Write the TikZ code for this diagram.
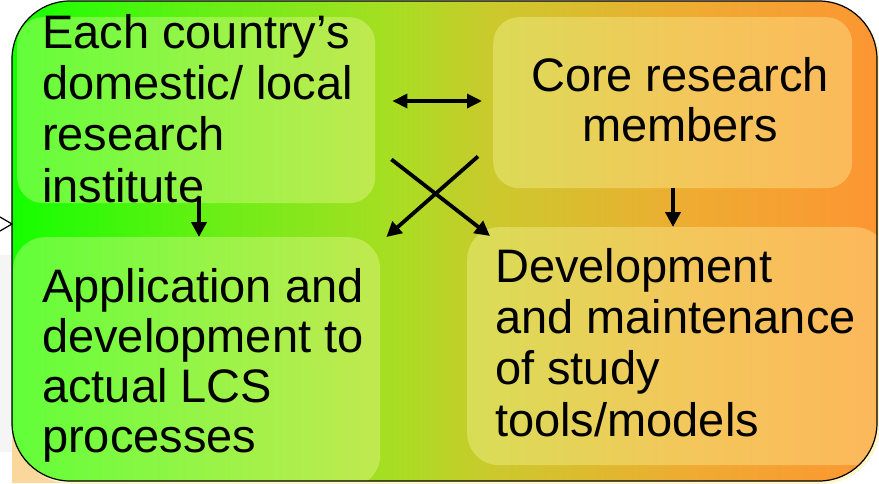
\documentclass[tikz,border=0pt]{standalone}
\usepackage{fontspec}
\setmainfont{Liberation Sans}
\usetikzlibrary{arrows.meta,calc}
\definecolor{s0}{RGB}{20,255,0}
\definecolor{s1}{RGB}{100,240,20}
\definecolor{s2}{RGB}{170,221,35}
\definecolor{s3}{RGB}{205,200,45}
\definecolor{s4}{RGB}{240,170,50}
\definecolor{s5}{RGB}{252,150,50}
\pgfdeclarehorizontalshading{greenorange}{100bp}{color(0bp)=(s0); color(25bp)=(s0); color(35.9bp)=(s1); color(47.4bp)=(s2); color(53.2bp)=(s3); color(64.8bp)=(s4); color(75bp)=(s5); color(100bp)=(s5)}
\definecolor{peach}{RGB}{250,216,155}
\definecolor{shadowy}{RGB}{255,246,205}
\definecolor{tint}{RGB}{255,255,175}
\tikzset{
  outerbox/.style={rounded corners=58pt, shading=greenorange},
  inbox/.style={rectangle, fill=tint, fill opacity=0.33, inner sep=0pt, anchor=north west},
  label/.style={inner sep=0pt, align=left, font=\fontsize{47}{51.3}\selectfont},
  arr/.style={line width=3.8pt, -{Triangle[length=15pt,width=15pt]}},
  dblarr/.style={line width=3.4pt, {Triangle[length=15pt,width=14pt]}-{Triangle[length=15pt,width=14pt]}}
}
\begin{document}
\begin{tikzpicture}[x=1pt,y=-1pt]
\useasboundingbox (0,0) rectangle (879,483);
% background remnants
\fill[peach] (12,420) rectangle (390,483);
\fill[black!4] (0,255) rectangle (12,452);
\fill[shadowy, rounded corners=58pt] (15,4) rectangle (880,484);
% outer box
\path[outerbox] (12,1) rectangle (877,481);
\begin{scope}
  \clip[rounded corners=58pt] (12,1) rectangle (877,481);
  \node[inbox, rounded corners=26pt, minimum width=358pt, minimum height=186pt] (b1) at (17,17) {};
  \node[inbox, rounded corners=26pt, minimum width=359pt, minimum height=171pt] (b2) at (493,17) {};
  \node[inbox, rounded corners=32pt, minimum width=367pt, minimum height=250pt] (b3) at (13,237) {};
  \node[inbox, rounded corners=32pt, minimum width=420pt, minimum height=238pt] (b4) at (467,227) {};
\end{scope}
\draw[line width=1.2pt, rounded corners=58pt] (12,1) rectangle (877,481);
% left remnant barb
\draw[line width=1.2pt] (0,217) -- (12,224) -- (0,231);
% texts (base anchor = baseline of last line)
\node[label, anchor=base west] (t1) at (42,202) {Each country’s\\domestic/ local\\research\\institute};
\node[label, anchor=base, align=center, font=\fontsize{47}{50}\selectfont] (t2) at (680,141) {Core research\\members};
\node[label, anchor=base west, font=\fontsize{47}{50}\selectfont] (t3) at (42,452) {Application and\\development to\\actual LCS\\processes};
\node[label, anchor=base west] (t4) at (495,436) {Development\\and maintenance\\of study\\tools/models};
% arrows
\draw[dblarr] ([shift={(17,84)}]b1.north east) -- ([shift={(-11,84)}]b2.north west);
\draw[arr] ([shift={(16,-44)}]b1.south east) -- ([shift={(23,9)}]b4.north west);
\draw[arr] ([shift={(-15,-32)}]b2.south west) -- ([shift={(6,0)}]b3.north east);
\draw[arr] ([shift={(182,-6)}]b1.south west) -- ([shift={(186,0)}]b3.north west);
\draw[arr] ([shift={(180,0)}]b2.south west) -- ([shift={(206,0)}]b4.north west);
\end{tikzpicture}
\end{document}
